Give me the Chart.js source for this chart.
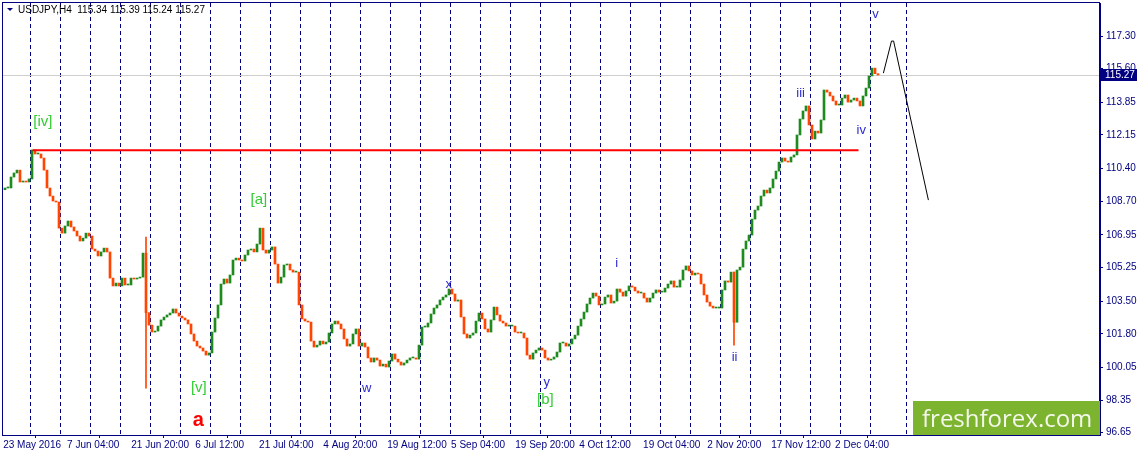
<!DOCTYPE html>
<html>
<head>
<meta charset="utf-8">
<script src="https://cdn.jsdelivr.net/npm/chart.js@4.4.1/dist/chart.umd.min.js"></script>
<style>
  html, body { margin: 0; padding: 0; background: #fff; }
</style>
</head>
<body>
<canvas id="chart" width="1140" height="456"></canvas>
<script>
// USDJPY H4 closes, one value per ~3px of the original chart
const closes = [
  109.39,109.39,109.96,110.17,110.32,109.70,109.75,109.70,109.86,111.37,
  111.16,111.16,110.95,110.32,109.39,108.97,108.71,108.66,107.30,107.04,
  107.41,107.67,107.36,107.15,106.89,106.63,106.78,107.04,106.89,106.21,
  106.11,105.85,106.06,106.26,106.06,104.70,104.29,104.44,104.29,104.70,
  104.34,104.34,104.70,104.65,104.70,104.75,106.00,102.90,102.25,101.89,
  101.94,102.20,102.52,102.67,102.78,102.88,103.09,102.88,102.72,102.62,
  102.52,102.31,101.79,101.42,101.16,101.06,100.90,100.69,100.80,101.89,
  102.62,103.30,104.39,104.65,104.44,104.86,105.64,105.74,105.64,105.59,
  105.90,106.16,106.21,106.06,106.47,107.30,106.16,106.00,106.16,106.32,
  105.43,104.44,104.75,105.38,105.43,105.12,105.01,105.01,103.30,102.57,
  102.46,102.41,101.42,101.11,101.21,101.42,101.27,101.37,101.84,102.31,
  102.46,102.31,102.05,101.53,101.16,101.27,101.79,102.05,101.16,101.32,
  101.11,100.54,100.33,100.54,100.43,100.12,100.22,100.07,100.38,100.75,
  100.48,100.33,100.17,100.28,100.43,100.54,100.54,100.48,101.21,102.15,
  102.15,102.36,102.83,103.14,103.30,103.56,103.71,103.82,104.13,103.87,
  103.50,103.56,102.67,101.79,101.58,101.73,101.84,102.46,102.88,102.57,
  102.05,101.89,102.52,103.19,102.78,102.46,102.36,102.20,102.20,102.20,
  101.89,101.84,101.84,101.58,100.69,100.48,100.80,100.95,101.06,100.95,
  100.54,100.43,100.48,100.59,100.85,101.32,101.32,101.16,101.27,101.53,
  101.73,102.20,102.57,102.93,103.35,103.66,103.92,103.76,103.30,103.35,
  103.71,103.82,103.40,103.50,104.13,103.97,103.76,104.03,104.29,104.23,
  104.03,103.92,103.92,103.66,103.45,103.66,103.92,104.08,103.97,103.97,
  104.18,104.39,104.55,104.23,104.23,104.60,105.12,105.33,105.07,104.86,
  104.96,104.91,104.39,103.82,103.45,103.24,103.14,103.14,103.14,104.08,
  104.55,104.49,105.01,102.40,105.12,105.27,106.21,106.63,106.94,107.77,
  108.24,108.45,108.97,109.28,109.13,109.39,109.86,110.27,110.74,110.95,
  110.79,110.74,111.00,111.11,112.15,112.98,113.40,113.66,112.67,111.94,
  112.35,112.25,112.93,114.49,114.38,114.18,113.92,113.71,113.71,114.07,
  114.23,113.86,113.97,114.07,113.92,113.66,114.18,114.59,115.22,115.63,
  115.34,115.27
];
const firstOpen = 109.30;

// long shadows (Brexit vote, US election)
const wickBars = [47, 243];
const wickHighs = [106.84, 105.01];
const wickLows = [98.97, 101.21];

const yTicks = [96.65, 98.35, 100.05, 101.80, 103.50, 105.25, 106.95, 108.70, 110.40, 112.15, 113.85, 115.60, 117.30];
const xLabels = ['23 May 2016', '7 Jun 04:00', '21 Jun 20:00', '6 Jul 12:00', '21 Jul 04:00', '4 Aug 20:00',
  '19 Aug 12:00', '5 Sep 04:00', '19 Sep 20:00', '4 Oct 12:00', '19 Oct 04:00', '2 Nov 20:00', '17 Nov 12:00', '2 Dec 04:00'];
const xLabelBars = [-0.6, 20.7, 42.1, 63.4, 84.7, 106.1, 127.4, 148.7, 170.1, 191.4, 212.7, 234.1, 255.4, 276.7];

// week separators (bar positions)
const weekBars = [8.4, 18.4, 28.4, 38.4, 48.4, 58.4, 68.4, 78.4, 88.4, 98.4, 108.4, 118.4, 128.4, 138.4, 148.4,
  158.4, 168.4, 178.4, 188.4, 198.4, 208.4, 218.4, 228.4, 238.4, 248.4, 258.4, 268.4, 278.4, 288.4, 300.4];

// resistance line
const levelPrice = 111.35;
const levelFrom = 9.2;
const levelTo = 284.5;

// forecast path
const forecastBars = [292.8, 295.5, 296.2, 307.8];
const forecastPrices = [115.37, 117.04, 117.04, 108.76];

// wave marks: text, bar, price, kind
const waves = [
  ['[iv]', 12.6, 112.82, 'green'],
  ['[a]', 84.6, 108.76, 'green'],
  ['[v]', 64.6, 98.97, 'green'],
  ['a', 64.4, 97.26, 'red'],
  ['w', 120.6, 98.97, 'blue'],
  ['x', 147.9, 104.39, 'blue'],
  ['y', 180.6, 99.29, 'blue'],
  ['[b]', 180.1, 98.35, 'green'],
  ['i', 203.9, 105.48, 'blue'],
  ['ii', 243.2, 100.59, 'blue'],
  ['iii', 265.2, 114.33, 'blue'],
  ['iv', 285.4, 112.41, 'blue'],
  ['v', 290.2, 118.45, 'blue']
];

const NAVY = '#000080';
const UP = '#1f8b1f';
const DOWN = '#ff4500';

const opens = closes.map((c, i) => i === 0 ? firstOpen : closes[i - 1]);
const lastClose = closes[closes.length - 1];

const waveStyles = {
  green: { font: '15px "Liberation Sans"', color: '#33cc33' },
  blue: { font: '13px "Liberation Sans"', color: '#2a2ad0' },
  red: { font: 'bold 20px "Liberation Sans"', color: '#ff0000' }
};

const noPad = s => {
  s.paddingTop = 0; s.paddingBottom = 0; s.paddingLeft = 0; s.paddingRight = 0;
};

const behindPlugin = {
  id: 'behind',
  beforeDatasetsDraw(chart) {
    const { ctx, chartArea: a, scales: { x, y } } = chart;
    ctx.save();
    ctx.strokeStyle = NAVY;
    ctx.lineWidth = 1;
    ctx.setLineDash([4, 3]);
    weekBars.forEach(b => {
      const px = Math.round(x.getPixelForValue(b)) + 0.5;
      ctx.beginPath();
      ctx.moveTo(px, a.top);
      ctx.lineTo(px, a.bottom);
      ctx.stroke();
    });
    ctx.setLineDash([]);
    const py = Math.round(y.getPixelForValue(lastClose)) + 0.5;
    ctx.strokeStyle = '#cfcfcf';
    ctx.beginPath();
    ctx.moveTo(a.left, py);
    ctx.lineTo(a.right, py);
    ctx.stroke();
    ctx.restore();
  }
};

const overlayPlugin = {
  id: 'overlay',
  afterDraw(chart) {
    const { ctx, chartArea: a, scales: { x, y } } = chart;
    ctx.save();
    // frame
    ctx.strokeStyle = NAVY;
    ctx.lineWidth = 1;
    ctx.strokeRect(a.left - 0.5, a.top - 0.5, a.right - a.left, a.bottom - a.top + 1);

    // title
    ctx.fillStyle = NAVY;
    ctx.beginPath();
    ctx.moveTo(7, 8); ctx.lineTo(13, 8); ctx.lineTo(10, 11);
    ctx.closePath(); ctx.fill();
    ctx.fillStyle = '#000';
    ctx.font = '10px "Liberation Sans"';
    ctx.textBaseline = 'middle';
    ctx.textAlign = 'left';
    ctx.fillText('USDJPY,H4  115.34 115.39 115.24 115.27', 18, 10);

    // wave labels
    ctx.textAlign = 'center';
    waves.forEach(([t, b, p, kind]) => {
      const s = waveStyles[kind];
      ctx.font = s.font;
      ctx.fillStyle = s.color;
      ctx.fillText(t, x.getPixelForValue(b), y.getPixelForValue(p));
    });

    // current price box
    const py = Math.round(y.getPixelForValue(lastClose));
    ctx.fillStyle = NAVY;
    ctx.fillRect(a.right + 1, py - 6, 36, 12);
    ctx.fillStyle = '#fff';
    ctx.font = '10px "Liberation Sans"';
    ctx.textAlign = 'left';
    ctx.fillText(lastClose.toFixed(2), a.right + 5, py + 0.5);

    // watermark
    ctx.fillStyle = '#7cb32f';
    ctx.fillRect(913, 401, a.right - 913, a.bottom - 401);
    ctx.fillStyle = '#f4f8ea';
    ctx.font = '27px "Open Sans"';
    const w = ctx.measureText('freshforex.com').width;
    ctx.font = (27 * 170 / w).toFixed(1) + 'px "Open Sans"';
    ctx.textAlign = 'left';
    ctx.textBaseline = 'alphabetic';
    ctx.fillText('freshforex.com', 922, 427);
    ctx.restore();
  }
};

new Chart(document.getElementById('chart'), {
  type: 'bar',
  data: {
    datasets: [
      {
        label: 'shadows',
        data: wickBars.map((b, i) => ({ x: b, y: [wickLows[i], wickHighs[i]] })),
        backgroundColor: DOWN,
        barThickness: 1,
        borderWidth: 0,
        grouped: false,
        order: 4
      },
      {
        label: 'USDJPY',
        data: closes.map((c, i) => ({ x: i, y: [opens[i], c] })),
        backgroundColor: closes.map((c, i) => c >= opens[i] ? UP : DOWN),
        barThickness: 2,
        minBarLength: 1,
        borderWidth: 0,
        grouped: false,
        order: 3
      },
      {
        type: 'line',
        label: 'level',
        data: [{ x: levelFrom, y: levelPrice }, { x: levelTo, y: levelPrice }],
        borderColor: '#ff0000',
        borderWidth: 2,
        pointRadius: 0,
        order: 2
      },
      {
        type: 'line',
        label: 'forecast',
        data: forecastBars.map((b, i) => ({ x: b, y: forecastPrices[i] })),
        borderColor: '#000',
        borderWidth: 1,
        pointRadius: 0,
        tension: 0,
        order: 1
      }
    ]
  },
  options: {
    responsive: false,
    animation: false,
    layout: { autoPadding: false, padding: { left: 3, top: 3, right: 0, bottom: 0 } },
    plugins: { legend: { display: false }, tooltip: { enabled: false } },
    scales: {
      x: {
        type: 'linear',
        min: -2 / 3,
        max: 365,
        offset: false,
        afterFit: s => { s.height = 21; noPad(s); },
        afterBuildTicks: s => { s.ticks = xLabelBars.map(v => ({ value: v })); },
        grid: { drawOnChartArea: false, tickLength: 3, tickColor: NAVY },
        border: { color: NAVY },
        ticks: {
          autoSkip: false,
          maxRotation: 0,
          align: 'start',
          padding: 1,
          color: NAVY,
          font: { family: 'Liberation Sans', size: 10 },
          callback: (v, i) => xLabels[i]
        }
      },
      y: {
        position: 'right',
        min: 96.53,
        max: 119.02,
        afterFit: s => { s.width = 40; noPad(s); },
        afterBuildTicks: s => { s.ticks = yTicks.map(v => ({ value: v })); },
        grid: { drawOnChartArea: false, tickLength: 3, tickColor: NAVY },
        border: { color: NAVY },
        ticks: {
          padding: 3,
          color: NAVY,
          font: { family: 'Liberation Sans', size: 10 },
          callback: v => v.toFixed(2)
        }
      }
    }
  },
  plugins: [behindPlugin, overlayPlugin]
});
</script>
</body>
</html>
